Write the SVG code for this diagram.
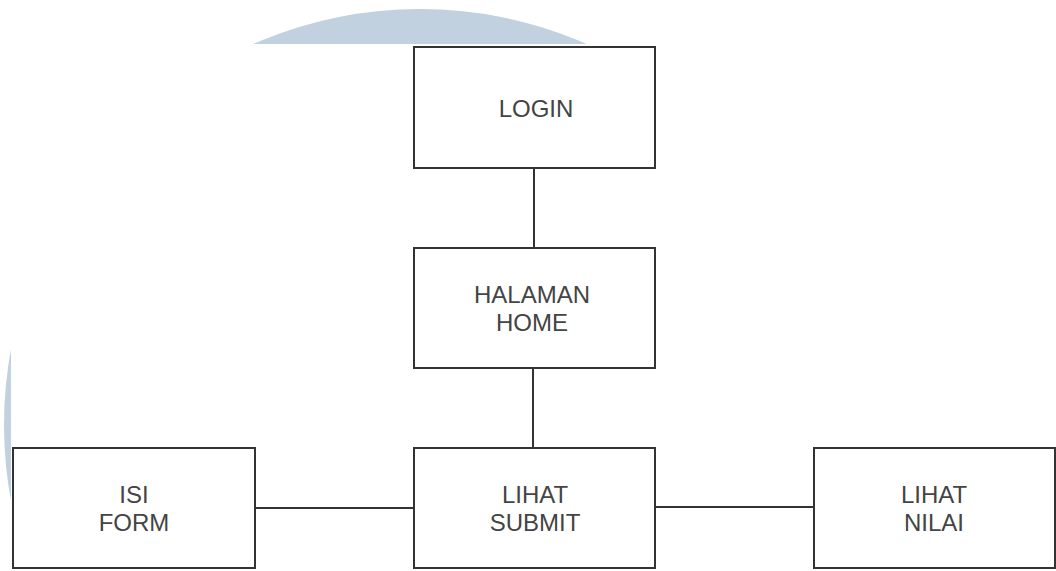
<svg xmlns="http://www.w3.org/2000/svg" width="1056" height="571" viewBox="0 0 1056 571">
<style>
.box{fill:#ffffff;stroke:#333333;stroke-width:2}
.lbl{font-family:"Liberation Sans",Arial,sans-serif;font-size:24px;fill:#444444;text-anchor:middle}
.edge{stroke:#333333;stroke-width:2;fill:none}
</style>
<rect width="1056" height="571" fill="#ffffff"/>
<g id="watermark">
<circle cx="420" cy="425" r="416" fill="#c1d1df"/>
<rect x="11" y="44" width="1045" height="527" fill="#ffffff"/>
</g>
<g id="connectors">
<line class="edge" x1="534" y1="168" x2="534" y2="248"/>
<line class="edge" x1="533" y1="368" x2="533" y2="448"/>
<line class="edge" x1="255" y1="508" x2="414" y2="508"/>
<line class="edge" x1="655" y1="507" x2="814" y2="507"/>
</g>
<g id="login">
<rect class="box" x="414" y="47" width="241" height="121"/>
<text class="lbl" x="536" y="117">LOGIN</text>
</g>
<g id="halaman-home">
<rect class="box" x="414" y="248" width="241" height="120"/>
<text class="lbl" x="532" y="303">HALAMAN</text>
<text class="lbl" x="532" y="331">HOME</text>
</g>
<g id="lihat-submit">
<rect class="box" x="414" y="448" width="241" height="120"/>
<text class="lbl" x="535" y="503">LIHAT</text>
<text class="lbl" x="535" y="531">SUBMIT</text>
</g>
<g id="isi-form">
<rect class="box" x="13" y="448" width="242" height="120"/>
<text class="lbl" x="134" y="503">ISI</text>
<text class="lbl" x="134" y="531">FORM</text>
</g>
<g id="lihat-nilai">
<rect class="box" x="814" y="448" width="241" height="120"/>
<text class="lbl" x="934" y="503">LIHAT</text>
<text class="lbl" x="934" y="531">NILAI</text>
</g>
</svg>
